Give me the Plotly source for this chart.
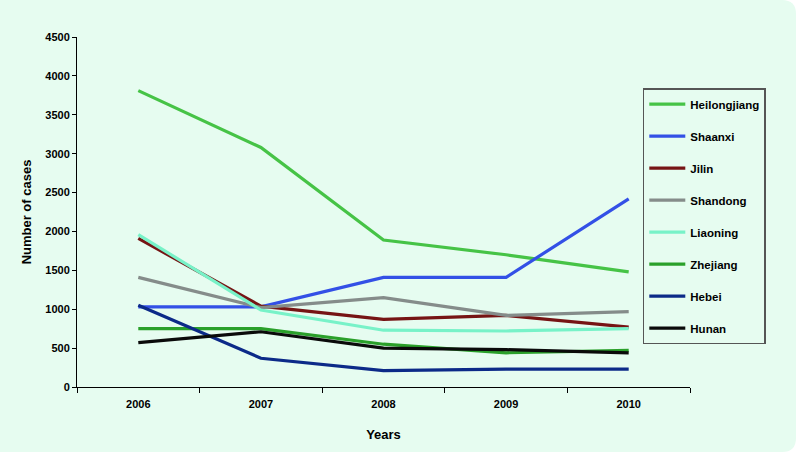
import plotly.graph_objects as go

years = ["2006", "2007", "2008", "2009", "2010"]
heilongjiang = [3810, 3080, 1890, 1700, 1480]
shaanxi = [1030, 1030, 1410, 1410, 2420]
jilin = [1910, 1040, 870, 920, 770]
shandong = [1410, 1020, 1150, 920, 970]
liaoning = [1960, 990, 730, 720, 750]
zhejiang = [750, 750, 550, 440, 470]
hebei = [1050, 370, 210, 230, 230]
hunan = [570, 710, 500, 480, 440]

series = [
    ("Heilongjiang", heilongjiang, "#46C346"),
    ("Shaanxi", shaanxi, "#3350E6"),
    ("Jilin", jilin, "#761414"),
    ("Shandong", shandong, "#858C8A"),
    ("Liaoning", liaoning, "#78F2C8"),
    ("Zhejiang", zhejiang, "#2AA02A"),
    ("Hebei", hebei, "#0C2A88"),
    ("Hunan", hunan, "#0A0A0A"),
]

fig = go.Figure()
for i, (name, vals, col) in enumerate(series):
    fig.add_trace(go.Scatter(
        x=years, y=vals, name=name, mode="lines",
        line=dict(color=col, width=3.2),
        legendgroup=f"g{i}",
    ))

font = "Liberation Sans, Arial, sans-serif"
W, H = 796, 452
ML, MR, MT, MB = 77, 106, 37, 65

fig.update_layout(
    width=W, height=H,
    margin=dict(l=ML, r=MR, t=MT, b=MB),
    paper_bgcolor="white",
    plot_bgcolor="rgba(0,0,0,0)",
    font=dict(family=font, size=11, color="black"),
    showlegend=True,
    legend=dict(
        x=0.923, y=0.854, xanchor="left", yanchor="top",
        bgcolor="rgba(0,0,0,0)", bordercolor="#555555", borderwidth=1.5,
        font=dict(family=font, size=11.5, color="black", weight="bold"),
        tracegroupgap=13,
        itemwidth=36,
    ),
    xaxis=dict(
        type="category", range=[-0.5, 4.5],
        showline=True, linecolor="black", linewidth=1,
        ticks="outside", tickson="boundaries", ticklen=5, tickcolor="black",
        showgrid=False, zeroline=False,
        ticklabelstandoff=7,
        tickfont=dict(family=font, size=11, weight="bold"),
        title=dict(text="Years", font=dict(family=font, size=13, weight="bold"), standoff=20),
    ),
    yaxis=dict(
        range=[0, 4500], dtick=500, tick0=0,
        showline=True, linecolor="black", linewidth=1,
        ticks="outside", ticklen=4, tickcolor="black",
        showgrid=False, zeroline=False,
        tickfont=dict(family=font, size=11, weight="bold"),
        title=dict(text="Number of cases", font=dict(family=font, size=13, weight="bold"), standoff=10),
    ),
)

# rounded mint background panel
pw, ph = W - ML - MR, H - MT - MB
def px(x):
    return (x - ML) / pw
def py(y):
    return (H - MB - y) / ph
r = 14
path = (f"M {px(0)} {py(0)} L {px(W - r)} {py(0)} "
        f"Q {px(W)} {py(0)} {px(W)} {py(r)} "
        f"L {px(W)} {py(H - r)} Q {px(W)} {py(H)} {px(W - r)} {py(H)} "
        f"L {px(0)} {py(H)} Z")
fig.add_shape(type="path", xref="paper", yref="paper", layer="below",
              path=path, fillcolor="#E6FCF0", line=dict(width=0))

fig.write_html("out.html", config={"displayModeBar": False},
               post_script="document.body.style.margin='0';document.body.style.padding='0';")
